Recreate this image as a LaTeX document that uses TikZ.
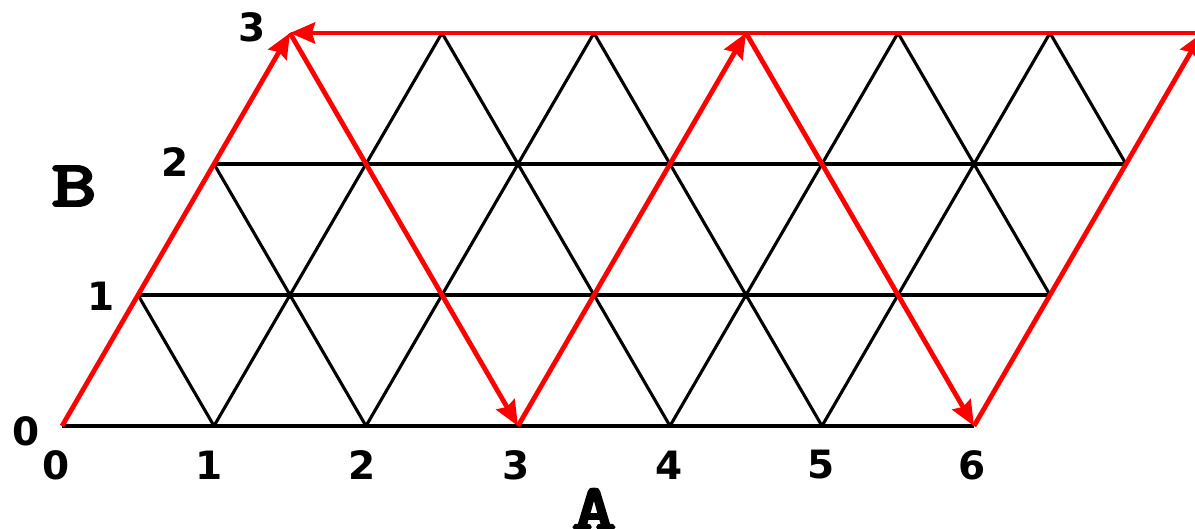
\documentclass[tikz,border=0pt]{standalone}
\usepackage{fontspec}
\usepackage{graphicx}
\newfontfamily\numfont{DejaVu Sans}
\newfontfamily\axfont{lmmonolt10-bold.otf}[FakeBold=2.5]
\usetikzlibrary{arrows.meta}
\begin{document}
\begin{tikzpicture}[x=1pt,y=1pt,
  gridline/.style={black,line width=3.1pt},
  redpath/.style={red,line width=4.8pt,line cap=butt,-{Stealth[length=25pt,width=21pt,inset=3pt]}},
  num/.style={font=\numfont\bfseries\fontsize{39}{39}\selectfont,inner sep=0pt},
  axislabel/.style={font=\axfont\fontsize{66}{66}\selectfont,inner sep=0pt}]
\useasboundingbox (0,0) rectangle (1195,-529);
\clip (0,0) rectangle (1195,-529);
\foreach \i in {0,...,7}
  \foreach \j in {0,...,3}
    \coordinate (p\i\j) at ({62+152*\i+76*\j},{-426+131*\j});
% horizontal rows
\draw[gridline] (p00) -- (p60);
\draw[gridline] (p01) -- (p61);
\draw[gridline] (p02) -- (p62);
% B-direction lines
\foreach \i in {1,...,5} \draw[gridline] (p\i0) -- (p\i3);
% anti-diagonals
\draw[gridline] (p10) -- (p01);
\draw[gridline] (p20) -- (p02);
\draw[gridline] (p40) -- (p13);
\draw[gridline] (p50) -- (p23);
\draw[gridline] (p61) -- (p43);
\draw[gridline] (p62) -- (p53);
% red path
\draw[redpath] (p00) -- (p03);
\draw[redpath] (p63) -- (p03);
\draw[redpath] (p03) -- (p30);
\draw[redpath] (p30) -- (p33);
\draw[redpath] (p33) -- (p60);
\draw[redpath] (p60) -- (p63);
% labels
\node[num] (b0) at (26,-431) {0};
\node[num] (b1) at (101,-296) {1};
\node[num] (b2) at (175,-162) {2};
\node[num] (b3) at (252,-27) {3};
\node[num] (a0) at (56,-465) {0};
\node[num] (a1) at (209,-465) {1};
\node[num] (a2) at (362,-465) {2};
\node[num] (a3) at (516,-465) {3};
\node[num] (a4) at (669,-465) {4};
\node[num] (a5) at (821,-465) {5};
\node[num] (a6) at (972,-465) {6};
\node[axislabel] (B) at (74,-186) {\scalebox{1.3}[1]{B}};
\node[axislabel] (A) at (594,-509) {\scalebox{1.3}[1]{A}};
\end{tikzpicture}
\end{document}
